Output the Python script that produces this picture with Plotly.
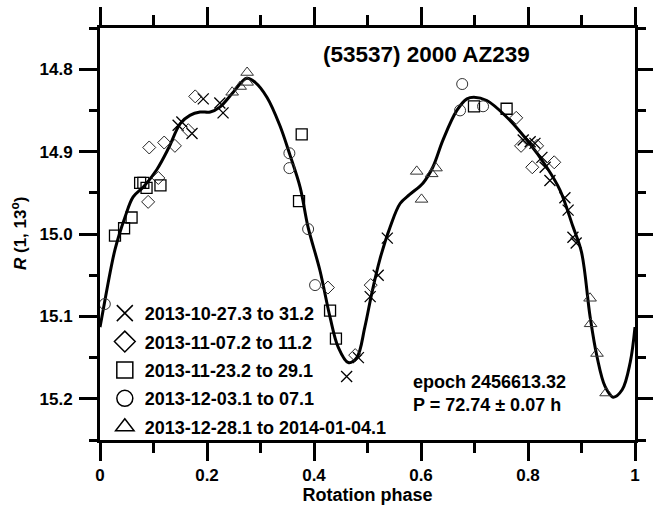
import plotly.graph_objects as go

# ---- data (rotation phase, R magnitude) ----
s1_phase = [0.193, 0.146, 0.153, 0.172, 0.224, 0.230, 0.461, 0.483, 0.505, 0.520, 0.537,
            0.791, 0.804, 0.813, 0.826, 0.832, 0.841, 0.869, 0.875, 0.884, 0.890]
s1_mag = [14.836, 14.868, 14.864, 14.878, 14.841, 14.853, 15.173, 15.150, 15.076, 15.050, 15.005,
          14.886, 14.888, 14.890, 14.907, 14.919, 14.935, 14.956, 14.971, 15.004, 15.011]

s2_phase = [0.178, 0.092, 0.120, 0.140, 0.165, 0.109, 0.090, 0.426, 0.477, 0.506,
            0.778, 0.787, 0.817, 0.808, 0.849]
s2_mag = [14.833, 14.895, 14.889, 14.893, 14.874, 14.932, 14.961, 15.065, 15.147, 15.062,
          14.859, 14.893, 14.893, 14.919, 14.913]

s3_phase = [0.075, 0.081, 0.087, 0.113, 0.059, 0.045, 0.028, 0.377, 0.372, 0.430, 0.441, 0.699, 0.760]
s3_mag = [14.938, 14.938, 14.944, 14.941, 14.980, 14.993, 15.002, 14.879, 14.960, 15.093, 15.127, 14.845, 14.848]

s4_phase = [0.354, 0.354, 0.389, 0.402, 0.009, 0.677, 0.673, 0.716]
s4_mag = [14.902, 14.920, 14.994, 15.062, 15.085, 14.818, 14.850, 14.845]

s5_phase = [0.275, 0.275, 0.262, 0.247, 0.592, 0.620, 0.628, 0.601, 0.916, 0.917, 0.929, 0.946]
s5_mag = [14.804, 14.816, 14.821, 14.828, 14.924, 14.927, 14.920, 14.958, 15.078, 15.109, 15.145, 15.193]

fit_phase = [0.0, 0.006, 0.028, 0.047, 0.062, 0.081, 0.106, 0.128, 0.150, 0.168, 0.187, 0.206,
             0.224, 0.249, 0.274, 0.290, 0.312, 0.336, 0.355, 0.374, 0.389, 0.411, 0.430,
             0.445, 0.464, 0.480, 0.495, 0.508, 0.523, 0.542, 0.561, 0.579, 0.604, 0.622,
             0.641, 0.667, 0.686, 0.699, 0.723, 0.760, 0.798, 0.835, 0.860, 0.884, 0.900,
             0.916, 0.929, 0.944, 0.959, 0.976, 0.991, 1.0]
fit_mag = [15.113, 15.092, 15.019, 14.979, 14.955, 14.943, 14.922, 14.896, 14.866, 14.856, 14.852,
           14.852, 14.846, 14.828, 14.811, 14.816, 14.834, 14.868, 14.904, 14.943, 14.992,
           15.044, 15.101, 15.137, 15.156, 15.150, 15.113, 15.072, 15.031, 14.992, 14.963,
           14.952, 14.938, 14.919, 14.886, 14.850, 14.836, 14.834, 14.838, 14.858, 14.886,
           14.919, 14.947, 14.991, 15.022, 15.100, 15.149, 15.185, 15.198, 15.189, 15.156, 15.113]

labels = ["2013-10-27.3 to 31.2", "2013-11-07.2 to 11.2", "2013-11-23.2 to 29.1",
          "2013-12-03.1 to 07.1", "2013-12-28.1 to 2014-01-04.1"]

FONT = "Liberation Sans, Arial, sans-serif"

series = [
    (s1_phase, s1_mag, "x-thin-open", 11, "#000000", 1.3),
    (s2_phase, s2_mag, "diamond-open", 10, "#222222", 1.0),
    (s3_phase, s3_mag, "square-open", 11, "#000000", 1.3),
    (s4_phase, s4_mag, "circle-open", 11, "#333333", 1.0),
    (s5_phase, s5_mag, "triangle-up-open", 11, "#333333", 1.0),
]

fig = go.Figure()

fig.add_trace(go.Scatter(x=fit_phase, y=fit_mag, mode="lines",
                         line=dict(color="black", width=3, shape="spline", smoothing=1.0),
                         showlegend=False, hoverinfo="skip"))

# helper trace so the minor-tick y axis is drawn
fig.add_trace(go.Scatter(x=[None], y=[None], yaxis="y2", mode="markers",
                         showlegend=False, hoverinfo="skip"))

for i, (px, py, sym, sz, col, lw) in enumerate(series):
    fig.add_trace(go.Scatter(x=px, y=py, mode="markers", showlegend=False,
                             marker=dict(symbol=sym, size=sz, color=col,
                                         line=dict(color=col, width=lw))))
    # legend entry (larger symbol, as in the reference key)
    fig.add_trace(go.Scatter(x=[None], y=[None], mode="markers", name=labels[i],
                             legendgroup="g%d" % i,
                             marker=dict(symbol=sym, size=16, color="black",
                                         line=dict(color="black", width=1.5))))

tickfont = dict(family=FONT, size=17, color="black", weight="bold")

fig.update_layout(
    xaxis=dict(range=[0, 1], tick0=0, dtick=0.2, tickformat="~g",
               showline=True, linecolor="black", linewidth=3, mirror="ticks",
               ticks="outside", ticklen=18, tickwidth=3, tickcolor="black",
               minor=dict(dtick=0.1, ticklen=10, tickwidth=3, tickcolor="black", ticks="outside"),
               showgrid=False, zeroline=False, automargin=False, tickfont=tickfont,
               title=dict(text="Rotation phase", standoff=2,
                          font=dict(family=FONT, size=18, color="black", weight="bold"))),
    yaxis=dict(range=[15.25, 14.75], tick0=14.8, dtick=0.1, tickformat=".1f",
               showline=True, linecolor="black", linewidth=3, mirror="ticks",
               ticks="outside", ticklen=18, tickwidth=3, tickcolor="black",
               ticklabelstandoff=3,
               showgrid=False, zeroline=False, automargin=False, tickfont=tickfont),
    yaxis2=dict(range=[15.25, 14.75], overlaying="y", anchor="x", side="left",
                tick0=14.75, dtick=0.05, showticklabels=False,
                showline=False, mirror="ticks",
                ticks="outside", ticklen=10, tickwidth=3, tickcolor="black",
                showgrid=False, zeroline=False, automargin=False),
)

fig.add_annotation(x=-0.1514, y=0.5, xref="paper", yref="paper", xanchor="center", yanchor="middle",
                   text="<i>R</i> (1, 13<sup>o</sup>)", textangle=-90, showarrow=False,
                   font=dict(family=FONT, size=17, color="black", weight="bold"))
fig.add_annotation(x=0.413, y=14.7825, xref="paper", yref="y", xanchor="left", yanchor="middle",
                   text="(53537) 2000 AZ239", showarrow=False,
                   font=dict(family=FONT, size=22.5, color="black", weight="bold"))
fig.add_annotation(x=0.582, y=15.1935, xref="paper", yref="y", xanchor="left", yanchor="middle",
                   text="epoch 2456613.32<br>P = 72.74 ± 0.07 h", showarrow=False, align="left",
                   font=dict(family=FONT, size=18, color="black", weight="bold"))

fig.update_layout(
    width=653, height=507,
    margin=dict(l=100, r=18, t=28, b=67),
    paper_bgcolor="white", plot_bgcolor="white",
    font=dict(family=FONT, color="black"),
    legend=dict(x=0.009, y=-0.012, xanchor="left", yanchor="bottom",
                bgcolor="rgba(0,0,0,0)", borderwidth=0, tracegroupgap=2,
                font=dict(family=FONT, size=18, color="black", weight="bold")),
)

fig.write_html("out.html")
